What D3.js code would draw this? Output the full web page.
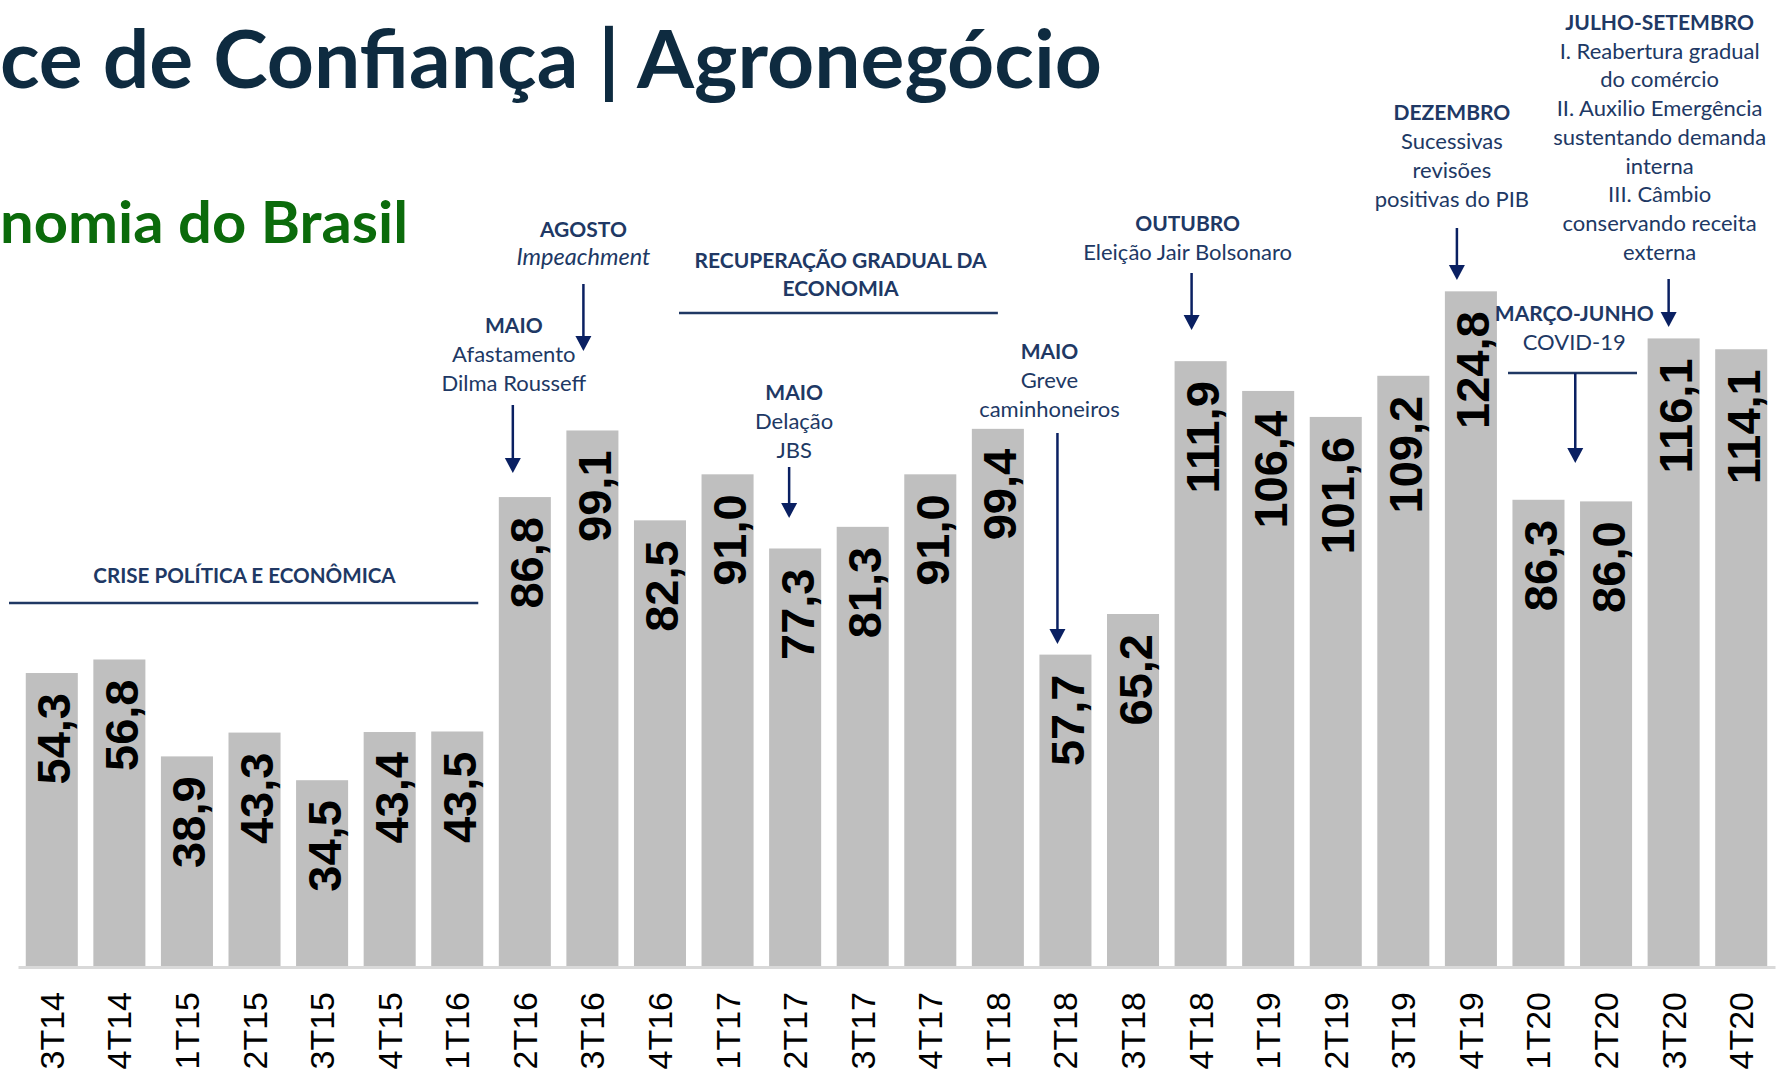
<!DOCTYPE html>
<html>
<head>
<meta charset="utf-8">
<script src="https://cdn.jsdelivr.net/npm/d3@7"></script>
<style>
  body { margin: 0; background: #fff; }
  svg { display: block; }
</style>
</head>
<body>
<div id="chart"></div>
<script>
const quarters = ["3T14", "4T14", "1T15", "2T15", "3T15", "4T15", "1T16", "2T16", "3T16", "4T16",
  "1T17", "2T17", "3T17", "4T17", "1T18", "2T18", "3T18", "4T18", "1T19", "2T19",
  "3T19", "4T19", "1T20", "2T20", "3T20", "4T20"];
const values = [54.3, 56.8, 38.9, 43.3, 34.5, 43.4, 43.5, 86.8, 99.1, 82.5,
  91.0, 77.3, 81.3, 91.0, 99.4, 57.7, 65.2, 111.9, 106.4, 101.6,
  109.2, 124.8, 86.3, 86.0, 116.1, 114.1];

const titleText = "ce de Confiança | Agronegócio";
const subtitleText = "nomia do Brasil";

const width = 1786, height = 1074;
const baseY = 967;

const svg = d3.select("#chart").append("svg")
    .attr("width", width)
    .attr("height", height);

const xScale = d3.scaleBand().domain(quarters).range([18, 1775]).paddingInner(0.23).paddingOuter(0.115);
const yScale = d3.scaleLinear().domain([0, 130]).range([baseY, baseY - 130 * 5.414]);
const xc = q => xScale(q) + xScale.bandwidth() / 2;

const ptBR = d3.formatLocale({ decimal: ",", thousands: ".", grouping: [3], currency: ["R$", ""] });
const fmt = ptBR.format(".1f");

// titles
svg.append("text")
    .attr("x", 0).attr("y", 88)
    .attr("font-family", "Lato").attr("font-weight", 700).attr("font-size", 80)
    .attr("fill", "#0e2b40")
    .attr("textLength", 1102).attr("lengthAdjust", "spacingAndGlyphs")
    .text(titleText);

svg.append("text")
    .attr("x", 0).attr("y", 243)
    .attr("font-family", "Lato").attr("font-weight", 700).attr("font-size", 58)
    .attr("fill", "#0b6b0b")
    .attr("textLength", 408).attr("lengthAdjust", "spacingAndGlyphs")
    .text(subtitleText);

// bars
const data = quarters.map((q, i) => ({ q, v: values[i] }));

svg.append("g").selectAll("rect")
  .data(data)
  .join("rect")
    .attr("x", d => xScale(d.q))
    .attr("y", d => yScale(d.v))
    .attr("width", xScale.bandwidth())
    .attr("height", d => yScale(0) - yScale(d.v))
    .attr("fill", "#bfbfbf");

// value labels
svg.append("g").selectAll("text")
  .data(data)
  .join("text")
    .attr("transform", d => `translate(${xc(d.q) + 2},${yScale(d.v) + 20}) rotate(-90)`)
    .attr("text-anchor", "end")
    .attr("dominant-baseline", "central")
    .attr("font-family", "Liberation Sans, Arial, sans-serif")
    .attr("font-weight", 700)
    .attr("font-size", 47)
    .attr("fill", "#000")
    .text(d => fmt(d.v));

// x axis
const xAxis = d3.axisBottom(xScale).tickSize(0).tickPadding(0);
const gx = svg.append("g")
    .attr("transform", `translate(0,${baseY})`)
    .call(xAxis);
gx.select(".domain").attr("stroke", "#d9d9d9").attr("stroke-width", 3);
gx.selectAll(".tick text")
    .attr("transform", "translate(0,25) rotate(-90)")
    .attr("text-anchor", "end")
    .attr("dy", null)
    .attr("y", 0)
    .attr("dominant-baseline", "central")
    .attr("font-family", "Liberation Sans, Arial, sans-serif")
    .attr("font-size", 34)
    .attr("fill", "#000");

// annotations
const navy = "#203864";
const arrowColor = "#0a2062";
const ann = svg.append("g").attr("font-family", "Lato").attr("fill", navy).attr("text-anchor", "middle");

function block(x, y, lines, lh) {
  lines.forEach((l, i) => {
    ann.append("text")
      .attr("x", x).attr("y", y + i * lh)
      .attr("font-size", l.size || 22)
      .attr("font-weight", l.bold ? 700 : 400)
      .attr("font-style", l.italic ? "italic" : "normal")
      .text(l.t);
  });
}

function arrow(x, y1, y2) {
  ann.append("line")
    .attr("x1", x).attr("x2", x).attr("y1", y1).attr("y2", y2 - 12)
    .attr("stroke", arrowColor).attr("stroke-width", 2.5);
  ann.append("path")
    .attr("d", `M${x - 8},${y2 - 15}L${x + 8},${y2 - 15}L${x},${y2}Z`)
    .attr("fill", arrowColor);
}

function rule(x1, x2, y) {
  ann.append("line")
    .attr("x1", x1).attr("x2", x2).attr("y1", y).attr("y2", y)
    .attr("stroke", navy).attr("stroke-width", 2.5);
}

const lh = 29;

// Crise
block(xc("2T15") - 10, 583, [{ t: "CRISE POLÍTICA E ECONÔMICA", bold: true, size: 20.6 }], lh);
rule(9, xScale("1T16") + xScale.bandwidth() - 5, 603);

// Maio 2016
block(xc("2T16") - 11, 333, [{ t: "MAIO", bold: true, size: 21 }, { t: "Afastamento" }, { t: "Dilma Rousseff" }], lh);
arrow(xc("2T16") - 12, 405, 473);

// Agosto 2016
block(xc("3T16") - 9, 237, [{ t: "AGOSTO", bold: true, size: 21 }, { t: "Impeachment", italic: true, size: 23.5 }], 28);
arrow(xc("3T16") - 9, 284, 351);

// Recuperação
block(xc("1T17") + 113, 268, [{ t: "RECUPERAÇÃO GRADUAL DA", bold: true, size: 21 }, { t: "ECONOMIA", bold: true, size: 21 }], 28);
rule(679, xc("1T18"), 313);

// Maio 2017
block(xc("2T17") - 1, 400, [{ t: "MAIO", bold: true, size: 21 }, { t: "Delação" }, { t: "JBS" }], lh);
arrow(xc("2T17") - 6, 467, 518);

// Maio 2018
block(xc("2T18") - 16, 359, [{ t: "MAIO", bold: true, size: 21 }, { t: "Greve" }, { t: "caminhoneiros" }], lh);
arrow(xc("2T18") - 8, 433, 644);

// Outubro 2018
block(xc("4T18") - 13, 231, [{ t: "OUTUBRO", bold: true, size: 21 }, { t: "Eleição Jair Bolsonaro" }], lh);
arrow(xc("4T18") - 9, 273, 330);

// Dezembro 2019
block(xc("4T19") - 19, 120, [{ t: "DEZEMBRO", bold: true, size: 21 }, { t: "Sucessivas" }, { t: "revisões" }, { t: "positivas do PIB" }], lh);
arrow(xc("4T19") - 14, 228, 280);

// Julho-Setembro 2020
block(xc("3T20") - 14, 30, [
  { t: "JULHO-SETEMBRO", bold: true, size: 21 },
  { t: "I. Reabertura gradual" },
  { t: "do comércio" },
  { t: "II. Auxilio Emergência" },
  { t: "sustentando demanda" },
  { t: "interna" },
  { t: "III. Câmbio" },
  { t: "conservando receita" },
  { t: "externa" }
], 28.7);
arrow(xc("3T20") - 5, 279, 327);

// Março-Junho 2020
const mid20 = (xc("1T20") + xc("2T20")) / 2;
block(mid20 + 2, 321, [{ t: "MARÇO-JUNHO", bold: true, size: 21 }, { t: "COVID-19" }], lh);
rule(1508, 1637, 373);
arrow(mid20 + 3, 373, 463);
</script>
</body>
</html>
